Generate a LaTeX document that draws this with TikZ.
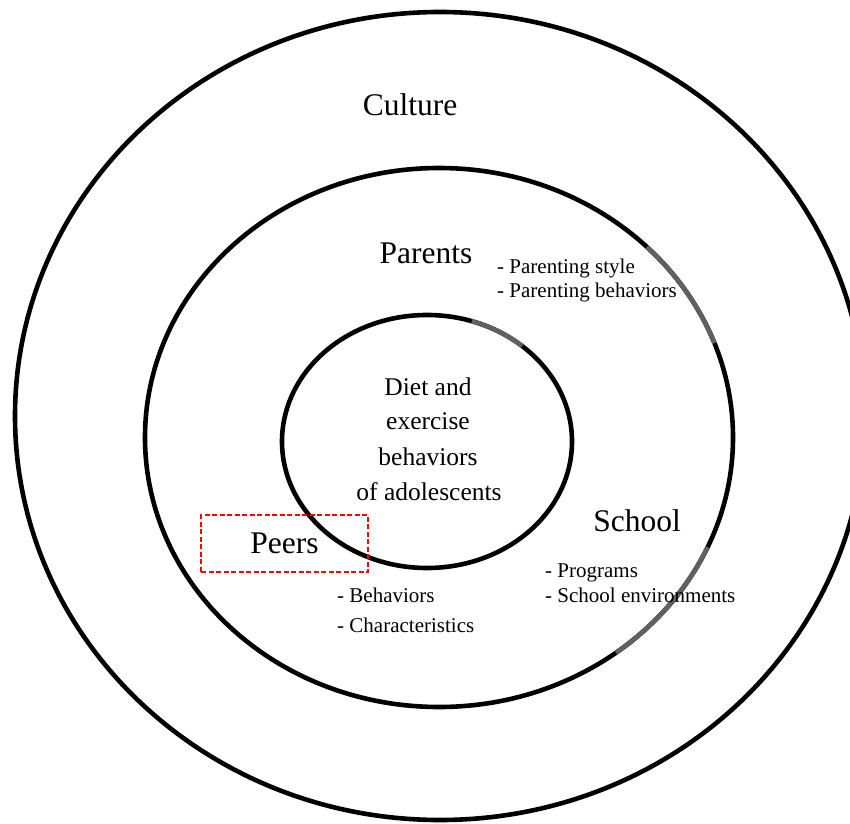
\documentclass[tikz,border=0pt]{standalone}
\usepackage{fontspec}
\setmainfont{Liberation Serif}
\begin{document}
\begin{tikzpicture}[x=1pt,y=1pt,
  ring/.style={line width=4.6pt, draw=black},
  graysegment/.style={line width=4.6pt, draw=black!62},
  biglabel/.style={font=\fontsize{31.5}{36}\selectfont, inner sep=0pt},
  midlabel/.style={font=\fontsize{25.5}{30}\selectfont, inner sep=0pt, anchor=base},
  smalllabel/.style={font=\fontsize{21}{25}\selectfont, inner sep=0pt, anchor=base west},
  peerbox/.style={draw=red, dashed, dash pattern=on 5pt off 2.5pt, line width=1.4pt,
     minimum width=167pt, minimum height=57pt, inner sep=0pt,
     font=\fontsize{31.5}{36}\selectfont}
]
\useasboundingbox (0,0) rectangle (850,823);
\coordinate (co) at (440,407);
\coordinate (cm) at (439,385.5);
\coordinate (ci) at (427,381.5);
% rings
\draw[ring] (co) ellipse [x radius=425, y radius=404];
\draw[ring] (cm) ellipse [x radius=294, y radius=269.5];
\draw[ring] (ci) ellipse [x radius=145, y radius=126.5];
% grey segments
\draw[graysegment] (cm) ++(20.5:294 and 269.5) arc[start angle=20.5, end angle=45, x radius=294, y radius=269.5];
\draw[graysegment] (cm) ++(-53:294 and 269.5) arc[start angle=-53, end angle=-24, x radius=294, y radius=269.5];
\draw[graysegment] (ci) ++(49:145 and 126.5) arc[start angle=49, end angle=72, x radius=145, y radius=126.5];
% labels
\node[biglabel, anchor=base] (culture) at (410,707) {Culture};
\node[biglabel, anchor=base] (parents) at (426,559) {Parents};
\node[biglabel, anchor=base] (school) at (637,292) {School};
\node[peerbox] (peers) at (284.5,279.5) {Peers};
\node[midlabel] (c1) at (428,428) {Diet and};
\node[midlabel] (c2) at (428,393.5) {exercise};
\node[midlabel] (c3) at (428,358) {behaviors};
\node[midlabel] (c4) at (429,323) {of adolescents};
\node[smalllabel] (p1) at (497,549) {- Parenting style};
\node[smalllabel] (p2) at (497,525) {- Parenting behaviors};
\node[smalllabel] (s1) at (545,246) {- Programs};
\node[smalllabel] (s2) at (545,221) {- School environments};
\node[smalllabel] (b1) at (337,221) {- Behaviors};
\node[smalllabel] (b2) at (337,191) {- Characteristics};
\end{tikzpicture}
\end{document}
